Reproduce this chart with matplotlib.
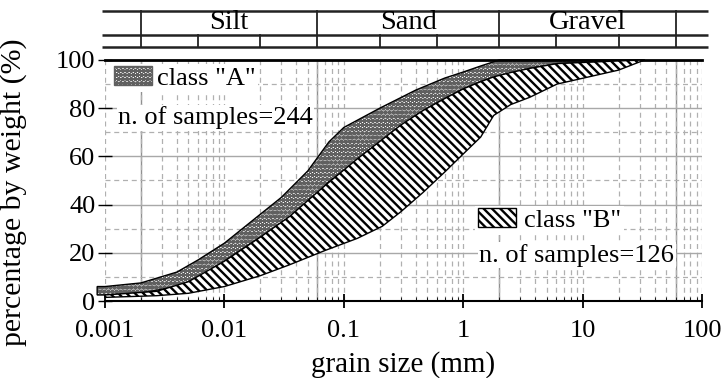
import numpy as np
import matplotlib.pyplot as plt
from matplotlib.patches import Patch
from matplotlib.transforms import blended_transform_factory

plt.rcParams['font.family'] = ['Liberation Serif', 'DejaVu Serif']
plt.rcParams['hatch.linewidth'] = 1.7

# class "A" envelope: grain size (mm) vs % passing
a_size = [0.00086, 0.001, 0.002, 0.004, 0.006, 0.01, 0.02, 0.03, 0.05, 0.075,
          0.1, 0.2, 0.4, 0.7, 1.0, 1.4, 2.0, 3.6, 6.1, 33]
a_upper = [6, 6, 7.5, 12, 17, 24, 36, 43, 54, 66,
           72, 80, 87.5, 92.5, 95, 97.5, 100, 100, 100, 100]
a_lower = [2.5, 2.5, 3.3, 6, 9.5, 16.5, 26.5, 31.5, 40, 49.5,
           54, 66, 77, 84, 88, 91, 93.2, 96.5, 98.5, 100]

# class "B" envelope
b_size = [0.001, 0.0027, 0.005, 0.01, 0.02, 0.035, 0.07, 0.13, 0.21, 0.3,
          0.46, 0.7, 1.0, 1.4, 1.8, 2.5, 3.6, 6.1, 20, 33]
b_upper = [2.5, 4, 8, 16.5, 26.5, 35, 48, 59, 67, 73,
           79, 84, 88, 91, 93, 94.8, 96.5, 98.5, 99.6, 100]
b_lower = [1.5, 2.2, 3.2, 6, 10.5, 15, 21, 26, 31, 37,
           45, 53.5, 61, 68, 77, 81.5, 84.5, 90, 95.8, 100]

n_a = 244
n_b = 126

# soil classes along the top
class_bounds = [0.002, 0.06, 2, 60]
class_names = ['Silt', 'Sand', 'Gravel']
sub_bounds = [0.006, 0.02, 0.2, 0.6, 6, 20]

x_ticks = [0.001, 0.01, 0.1, 1, 10, 100]
x_labels = ['0.001', '0.01', '0.1', '1', '10', '100']
y_ticks = [0, 20, 40, 60, 80, 100]

HATCH_A = 'oooo'
HATCH_B = '\\' * 4
STIPPLE = '#606060'

fig = plt.figure(figsize=(7.25, 3.78), dpi=100)
ax = fig.add_axes([0.1448, 0.2037, 0.8235, 0.6376])

ax.set_xscale('log')
ax.set_xlim(0.001, 100)
ax.set_ylim(0, 100)

# grid
ax.set_xticks(x_ticks)
ax.set_xticklabels(x_labels)
ax.set_xticks([m * 10.0 ** e for e in range(-3, 2) for m in range(2, 10)], minor=True)
ax.set_yticks(y_ticks)
ax.set_yticks([10, 30, 50, 70, 90], minor=True)
ax.grid(axis='x', which='both', ls=(0, (4, 3)), color='#b0b0b0', lw=0.9)
ax.grid(axis='y', which='major', ls='-', color='#a8a8a8', lw=1.0)
ax.grid(axis='y', which='minor', ls=(0, (4, 3)), color='#b0b0b0', lw=0.9)
for b in class_bounds:
    ax.axvline(b, color='#909090', lw=1.0, zorder=0.5)
ax.set_axisbelow(True)

# envelopes: stippled class A underneath, hatched class B on top
ax.fill_between(a_size, a_lower, a_upper, facecolor='white', edgecolor=STIPPLE,
                hatch=HATCH_A, lw=0, zorder=2, clip_on=False)
ax.fill(np.r_[a_size, a_size[::-1]], np.r_[a_upper, a_lower[::-1]], facecolor='none',
        edgecolor='black', lw=1.0, zorder=2.1, clip_on=False)
ax.fill_between(b_size, b_lower, b_upper, facecolor='white', edgecolor='black',
                hatch=HATCH_B, lw=1.0, zorder=3, clip_on=False)

# spines and ticks
for s in ['left', 'right']:
    ax.spines[s].set_visible(False)
ax.spines['bottom'].set_linewidth(1.5)
ax.spines['top'].set_linewidth(2.0)
ax.tick_params(axis='x', which='major', direction='inout', length=10, width=1.3,
               labelsize=19, pad=9)
ax.tick_params(axis='x', which='minor', direction='in', length=3, width=0.6)
ax.tick_params(axis='y', which='major', direction='inout', length=10, width=1.0,
               labelsize=19, pad=2)
ax.tick_params(axis='y', which='minor', length=0)
ax.tick_params(top=False, right=False)

ax.set_xlabel('grain size (mm)', fontsize=21, labelpad=6)
ax.set_ylabel('percentage by weight (%)', fontsize=21.5)
ax.yaxis.set_label_coords(-0.131, 0.45)

# legends
leg_a = ax.legend(handles=[Patch(facecolor='white', edgecolor=STIPPLE, hatch=HATCH_A)],
                  labels=['class "A"'], loc='upper left', bbox_to_anchor=(0.01, 0.985),
                  fontsize=19, handlelength=1.45, handleheight=0.7, handletextpad=0.2,
                  borderpad=0.1, borderaxespad=0, frameon=True, fancybox=False,
                  framealpha=1, edgecolor='none')
ax.add_artist(leg_a)
ax.text(0.022, 0.76, 'n. of samples=%d' % n_a, transform=ax.transAxes, fontsize=19,
        va='center', ha='left', zorder=5,
        bbox=dict(facecolor='white', edgecolor='none', pad=1))

leg_b = ax.legend(handles=[Patch(facecolor='white', edgecolor='black', hatch=HATCH_B)],
                  labels=['class "B"'], loc='upper left', bbox_to_anchor=(0.62, 0.395),
                  fontsize=19, handlelength=1.45, handleheight=0.7, handletextpad=0.3,
                  borderpad=0.1, borderaxespad=0, frameon=True, fancybox=False,
                  framealpha=1, edgecolor='none')
ax.text(0.627, 0.19, 'n. of samples=%d' % n_b, transform=ax.transAxes, fontsize=19,
        va='center', ha='left', zorder=5,
        bbox=dict(facecolor='white', edgecolor='none', pad=1))

# classification header above the plot
tr = blended_transform_factory(ax.transData, ax.transAxes)
tra = ax.transAxes
y_top, y_mid, y_bot = 1.2033, 1.1037, 1.054
for yy in [y_top, y_mid, y_bot]:
    ax.plot([-0.005, 1.01], [yy, yy], transform=tra, color='#222222', lw=1.8,
            clip_on=False, solid_capstyle='butt')
for b in class_bounds:
    ax.plot([b, b], [y_bot, y_top], transform=tr, color='#222222', lw=1.3, clip_on=False)
for b in sub_bounds:
    ax.plot([b, b], [y_bot, y_mid], transform=tr, color='#222222', lw=1.3, clip_on=False)
for lo, hi, name in zip(class_bounds[:-1], class_bounds[1:], class_names):
    ax.text(np.sqrt(lo * hi), (y_top + y_mid) / 2, name, transform=tr, fontsize=20.5,
            ha='center', va='center')

fig.savefig('out.png', dpi=100)
